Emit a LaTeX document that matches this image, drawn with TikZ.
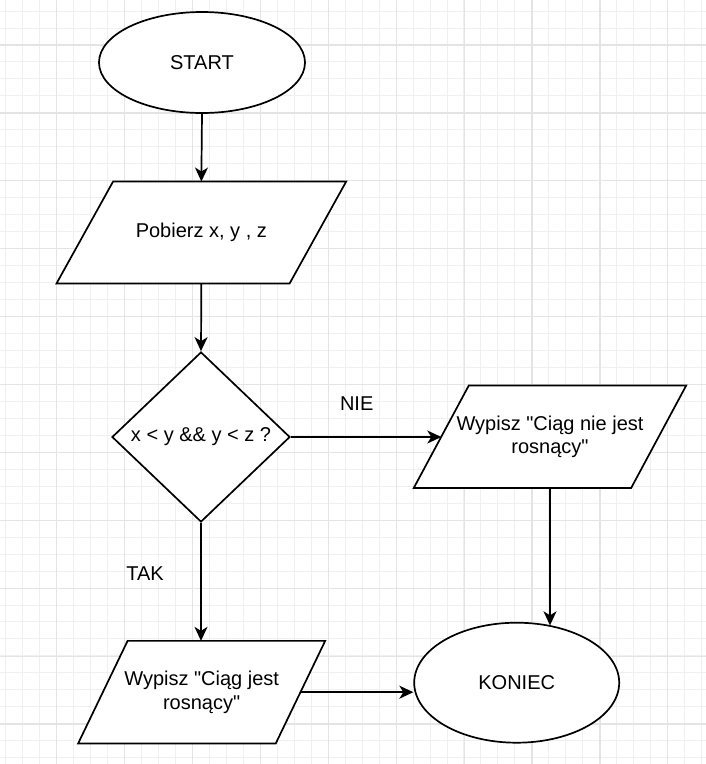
\documentclass[tikz,border=0pt]{standalone}
\usepackage{fontspec}
\setmainfont{Liberation Sans}[Ligatures=TeXOff]
\usetikzlibrary{shapes.geometric,arrows.meta}
\definecolor{gridminor}{HTML}{F0F0F0}
\definecolor{gridmajor}{HTML}{E4E4E4}
\pgfdeclarelayer{gridlayer}
\pgfdeclarelayer{shapelayer}
\pgfsetlayers{gridlayer,shapelayer,main}
\begin{document}
\begin{tikzpicture}[x=1pt,y=-1pt,
  every node/.style={font=\fontsize{20}{23.5}\selectfont},
  minorline/.style={draw=gridminor,line width=1pt},
  majorline/.style={draw=gridmajor,line width=1.2pt},
  shapeline/.style={draw=black,line width=1.7pt,fill=white,inner sep=0pt},
  oval/.style={shapeline,ellipse},
  iobox/.style={rectangle,inner sep=0pt,align=center},
  decision/.style={shapeline,diamond},
  conn/.style={line width=1.7pt,-{Stealth[length=14pt,width=13pt,inset=4pt]}},
  lbl/.style={inner sep=0pt}
]
\useasboundingbox (0,0) rectangle (706,764);
\begin{pgfonlayer}{gridlayer}
\fill[white] (0,0) rectangle (706,764);
\foreach \i in {0,...,41} \draw[minorline] ({5.8+16.97*\i},0) -- ++(0,764);
\foreach \i in {0,...,44} \draw[minorline] (0,{11.06+16.97*\i}) -- ++(706,0);
\foreach \i in {0,...,9} \draw[majorline] ({56.7+67.9*\i},0) -- ++(0,764);
\foreach \i in {0,...,10} \draw[majorline] (0,{45+67.9*\i}) -- ++(706,0);
\end{pgfonlayer}

% nodes
\node[oval,minimum width=206pt,minimum height=101pt] (start) at (202,62.5) {START};
\node[iobox,minimum width=232.7pt,minimum height=101.6pt] (p1) at (201.35,232.5) {Pobierz x, y , z};
\node[decision,minimum width=178pt,minimum height=170pt] (d) at (201,437) {};
\node[lbl] (dtext) at (d.center) {x < y \&\& y < z ?};
\node[iobox,minimum width=217pt,minimum height=102pt] (p2) at (550,436.7) {Wypisz "Ciąg nie jest\\rosnący"};
\node[iobox,minimum width=197.2pt,minimum height=102.3pt] (p3) at (201.65,692.2) {Wypisz "Ciąg jest\\rosnący"};
\node[oval,minimum width=205pt,minimum height=120pt] (kon) at (516.7,682.7) {KONIEC};
\node[lbl] (nie) at (356.7,403.3) {NIE};
\node[lbl] (tak) at (145,573.3) {TAK};

% parallelogram outlines
\begin{pgfonlayer}{shapelayer}
\filldraw[shapeline] ([xshift=28.3pt]p1.north west) -- ([xshift=28.3pt]p1.north east)
  -- ([xshift=-28.3pt]p1.south east) -- ([xshift=-28.3pt]p1.south west) -- cycle;
\filldraw[shapeline] ([xshift=27.5pt]p2.north west) -- ([xshift=27.5pt]p2.north east)
  -- ([xshift=-27.5pt]p2.south east) -- ([xshift=-27.5pt]p2.south west) -- cycle;
\filldraw[shapeline] ([xshift=24.75pt]p3.north west) -- ([xshift=24.75pt]p3.north east)
  -- ([xshift=-24.75pt]p3.south east) -- ([xshift=-24.75pt]p3.south west) -- cycle;
\end{pgfonlayer}

% connectors
\draw[conn] (start.south) -- (p1.north);
\draw[conn] (p1.south) -- (d.north);
\draw[conn] (d.east) -- (d.east -| p2.west);
\draw[conn] (p2.south) -- (p2.south |- kon.59.6);
\draw[conn] (d.south) -- (d.south |- p3.north);
\draw[conn] (p3.east) -- (p3.east -| kon.west);
\end{tikzpicture}
\end{document}
